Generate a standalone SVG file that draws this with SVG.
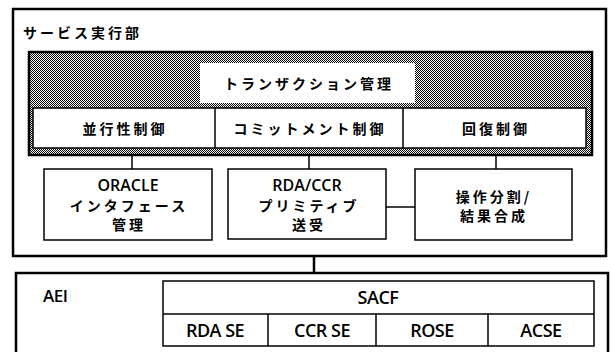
<svg xmlns="http://www.w3.org/2000/svg" width="611" height="352" viewBox="0 0 611 352">
<style>
.frame{fill:#fff;stroke:#000;stroke-width:2.5}
.box{fill:#fff;stroke:#000;stroke-width:1.5}
.ln{stroke:#000;stroke-width:1.5;fill:none}
.jp{font-family:"Noto Sans CJK JP","Noto Sans",sans-serif;font-size:14px;font-weight:bold;letter-spacing:3px;fill:#000;text-anchor:middle}
.lt{font-family:"Open Sans","Noto Sans","Noto Sans CJK JP",sans-serif;font-size:15px;font-weight:600;fill:#000;text-anchor:middle;letter-spacing:-0.5px}
.md{font-size:16px;letter-spacing:0}
.lg{font-size:18px}
</style>
<defs>
<pattern id="chk" width="2" height="2" patternUnits="userSpaceOnUse">
<rect width="2" height="2" fill="#fff"/>
<rect width="1" height="1" fill="#000"/>
<rect x="1" y="1" width="1" height="1" fill="#000"/>
</pattern>
</defs>
<g id="service-exec">
<rect class="frame" x="13" y="9" width="593" height="247"/>
<text class="jp" x="23" y="38" style="text-anchor:start">サービス実行部</text>
</g>
<g id="transaction">
<rect x="29" y="52" width="563" height="103" fill="url(#chk)" stroke="#000" stroke-width="2.5"/>
<rect x="200" y="63" width="215" height="40" fill="#fff"/>
<text class="jp" x="309" y="89">トランザクション管理</text>
</g>
<g id="control-row">
<rect class="box" x="33" y="108" width="553" height="40"/>
<line class="ln" x1="215" y1="108" x2="215" y2="148"/>
<line class="ln" x1="403" y1="108" x2="403" y2="148"/>
<text class="jp" x="125" y="134">並行性制御</text>
<text class="jp" x="310" y="134">コミットメント制御</text>
<text class="jp" x="496" y="134">回復制御</text>
</g>
<g id="oracle">
<rect class="box" x="44" y="169" width="168" height="71"/>
<text class="lt md" x="128" y="191">ORACLE</text>
<text class="jp" x="129" y="211">インタフェース</text>
<text class="jp" x="129" y="230">管理</text>
</g>
<g id="rda-ccr">
<rect class="box" x="228" y="169" width="158" height="70"/>
<text class="lt md" x="307" y="191">RDA/CCR</text>
<text class="jp" x="309" y="211">プリミティブ</text>
<text class="jp" x="309" y="230">送受</text>
</g>
<g id="split">
<rect class="box" x="415" y="169" width="157" height="71"/>
<text class="jp" x="494" y="202">操作分割/</text>
<text class="jp" x="494" y="221">結果合成</text>
</g>
<g id="aei">
<path d="M16 360 V273 H608 V360" class="frame"/>
<text class="lt" x="43" y="302" style="text-anchor:start;font-size:17px">AEI</text>
<rect class="box" x="163" y="281" width="431" height="65"/>
<line class="ln" x1="163" y1="314" x2="594" y2="314"/>
<line class="ln" x1="268" y1="314" x2="268" y2="346"/>
<line class="ln" x1="376" y1="314" x2="376" y2="346"/>
<line class="ln" x1="488" y1="314" x2="488" y2="346"/>
<text class="lt lg" x="378" y="304">SACF</text>
<text class="lt lg" x="215" y="337">RDA SE</text>
<text class="lt lg" x="322" y="337">CCR SE</text>
<text class="lt lg" x="432" y="337">ROSE</text>
<text class="lt lg" x="541" y="337">ACSE</text>
</g>
<g id="connectors">
<line class="ln" x1="132" y1="155" x2="132" y2="169"/>
<line class="ln" x1="309" y1="155" x2="309" y2="169"/>
<line class="ln" x1="496" y1="155" x2="496" y2="169"/>
<line class="ln" x1="386" y1="207" x2="415" y2="207"/>
<line class="ln" x1="314" y1="256" x2="314" y2="273" style="stroke-width:2.5"/>
</g>
</svg>
